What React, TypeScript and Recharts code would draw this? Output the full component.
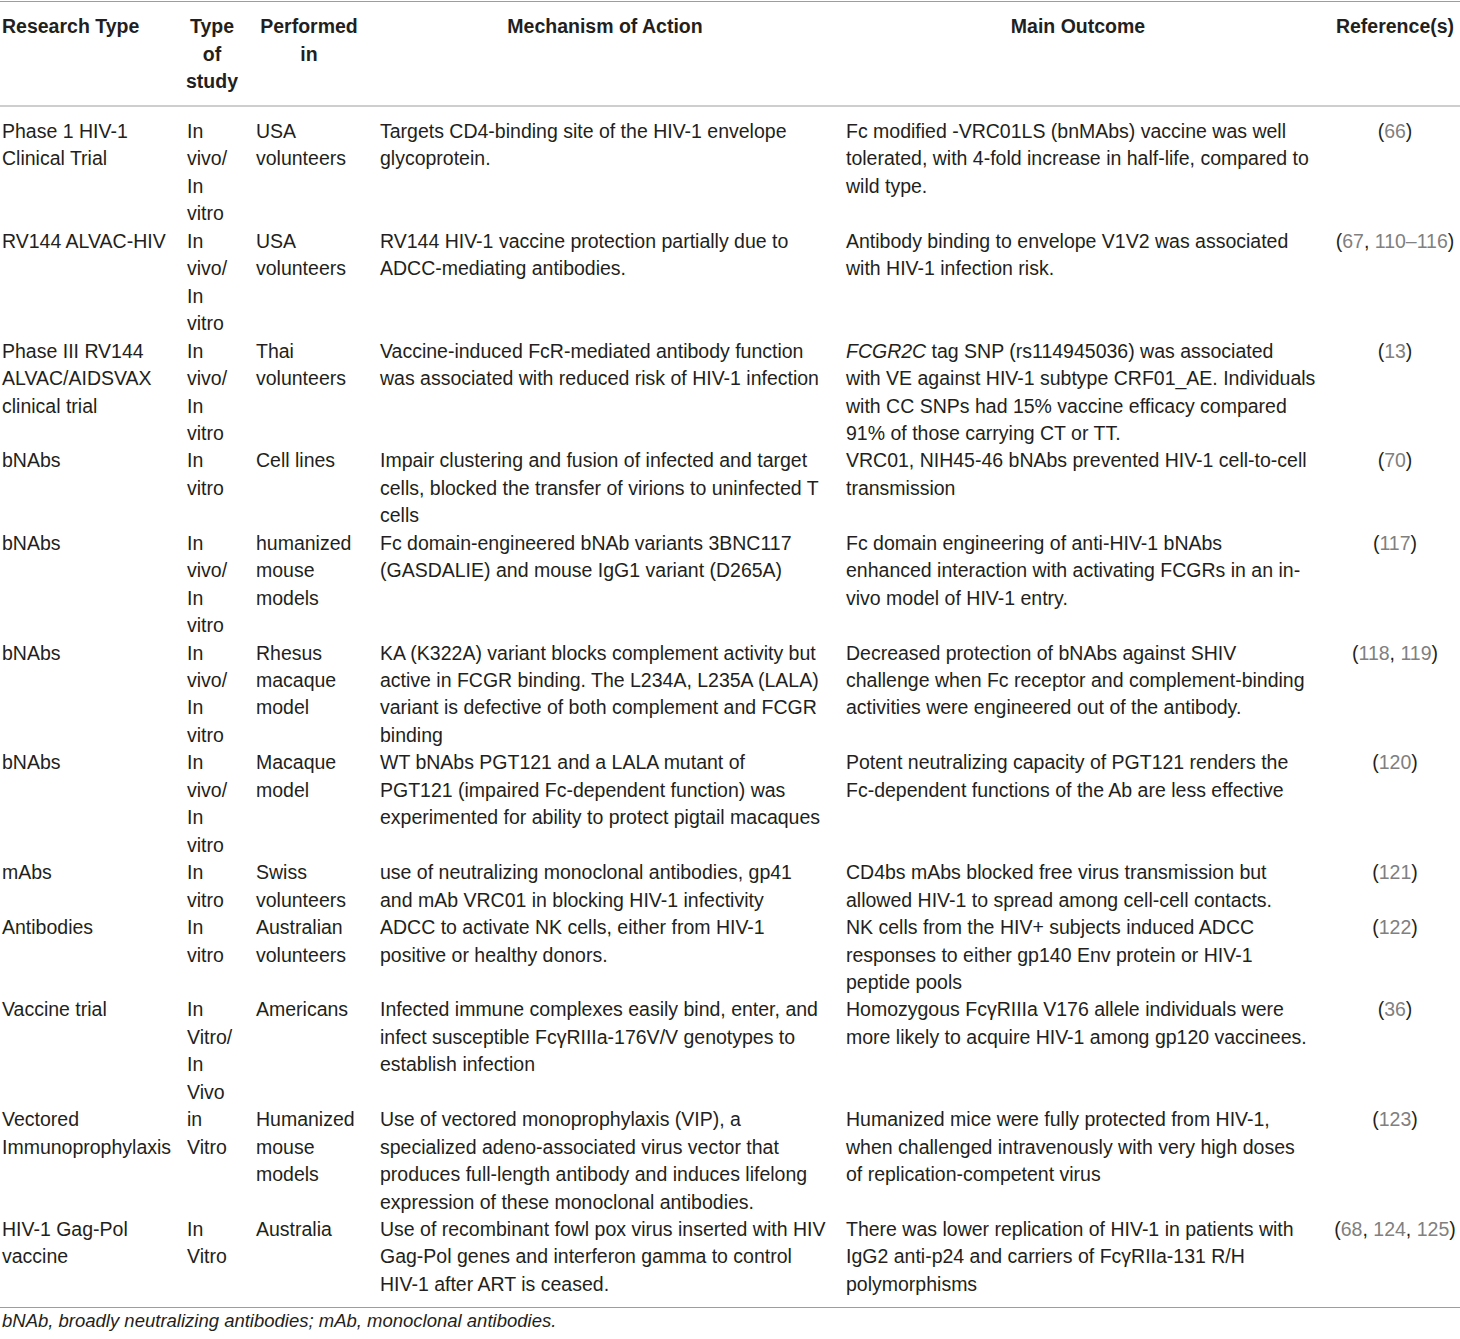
import React from "react";
import { Surface, Layer } from "recharts";

// column headers (one entry per header line)
const headers: { lines: string[]; x: number; anchor: "start" | "middle" }[] = [
  { lines: ["Research Type"], x: 2, anchor: "start" },
  { lines: ["Type", "of", "study"], x: 212, anchor: "middle" },
  { lines: ["Performed", "in"], x: 309, anchor: "middle" },
  { lines: ["Mechanism of Action"], x: 605, anchor: "middle" },
  { lines: ["Main Outcome"], x: 1078, anchor: "middle" },
  { lines: ["Reference(s)"], x: 1395, anchor: "middle" },
];

const vivoVitro = ["In", "vivo/", "In", "vitro"];
const inVitro = ["In", "vitro"];

const researchTypes = [
  ["Phase 1 HIV-1", "Clinical Trial"],
  ["RV144 ALVAC-HIV"],
  ["Phase III RV144", "ALVAC/AIDSVAX", "clinical trial"],
  ["bNAbs"],
  ["bNAbs"],
  ["bNAbs"],
  ["bNAbs"],
  ["mAbs"],
  ["Antibodies"],
  ["Vaccine trial"],
  ["Vectored", "Immunoprophylaxis"],
  ["HIV-1 Gag-Pol", "vaccine"],
];

const studyTypes = [
  vivoVitro,
  vivoVitro,
  vivoVitro,
  inVitro,
  vivoVitro,
  vivoVitro,
  vivoVitro,
  inVitro,
  inVitro,
  ["In", "Vitro/", "In", "Vivo"],
  ["in", "Vitro"],
  ["In", "Vitro"],
];

const performedIn = [
  ["USA", "volunteers"],
  ["USA", "volunteers"],
  ["Thai", "volunteers"],
  ["Cell lines"],
  ["humanized", "mouse", "models"],
  ["Rhesus", "macaque", "model"],
  ["Macaque", "model"],
  ["Swiss", "volunteers"],
  ["Australian", "volunteers"],
  ["Americans"],
  ["Humanized", "mouse", "models"],
  ["Australia"],
];

const mechanisms = [
  ["Targets CD4-binding site of the HIV-1 envelope", "glycoprotein."],
  ["RV144 HIV-1 vaccine protection partially due to", "ADCC-mediating antibodies."],
  ["Vaccine-induced FcR-mediated antibody function", "was associated with reduced risk of HIV-1 infection"],
  ["Impair clustering and fusion of infected and target", "cells, blocked the transfer of virions to uninfected T", "cells"],
  ["Fc domain-engineered bNAb variants 3BNC117", "(GASDALIE) and mouse IgG1 variant (D265A)"],
  [
    "KA (K322A) variant blocks complement activity but",
    "active in FCGR binding. The L234A, L235A (LALA)",
    "variant is defective of both complement and FCGR",
    "binding",
  ],
  [
    "WT bNAbs PGT121 and a LALA mutant of",
    "PGT121 (impaired Fc-dependent function) was",
    "experimented for ability to protect pigtail macaques",
  ],
  ["use of neutralizing monoclonal antibodies, gp41", "and mAb VRC01 in blocking HIV-1 infectivity"],
  ["ADCC to activate NK cells, either from HIV-1", "positive or healthy donors."],
  ["Infected immune complexes easily bind, enter, and", "infect susceptible FcγRIIIa-176V/V genotypes to", "establish infection"],
  [
    "Use of vectored monoprophylaxis (VIP), a",
    "specialized adeno-associated virus vector that",
    "produces full-length antibody and induces lifelong",
    "expression of these monoclonal antibodies.",
  ],
  ["Use of recombinant fowl pox virus inserted with HIV", "Gag-Pol genes and interferon gamma to control", "HIV-1 after ART is ceased."],
];

const outcomes = [
  ["Fc modified -VRC01LS (bnMAbs) vaccine was well", "tolerated, with 4-fold increase in half-life, compared to", "wild type."],
  ["Antibody binding to envelope V1V2 was associated", "with HIV-1 infection risk."],
  [
    "FCGR2C tag SNP (rs114945036) was associated",
    "with VE against HIV-1 subtype CRF01_AE. Individuals",
    "with CC SNPs had 15% vaccine efficacy compared",
    "91% of those carrying CT or TT.",
  ],
  ["VRC01, NIH45-46 bNAbs prevented HIV-1 cell-to-cell", "transmission"],
  ["Fc domain engineering of anti-HIV-1 bNAbs", "enhanced interaction with activating FCGRs in an in-", "vivo model of HIV-1 entry."],
  ["Decreased protection of bNAbs against SHIV", "challenge when Fc receptor and complement-binding", "activities were engineered out of the antibody."],
  ["Potent neutralizing capacity of PGT121 renders the", "Fc-dependent functions of the Ab are less effective"],
  ["CD4bs mAbs blocked free virus transmission but", "allowed HIV-1 to spread among cell-cell contacts."],
  ["NK cells from the HIV+ subjects induced ADCC", "responses to either gp140 Env protein or HIV-1", "peptide pools"],
  ["Homozygous FcγRIIIa V176 allele individuals were", "more likely to acquire HIV-1 among gp120 vaccinees."],
  ["Humanized mice were fully protected from HIV-1,", "when challenged intravenously with very high doses", "of replication-competent virus"],
  ["There was lower replication of HIV-1 in patients with", "IgG2 anti-p24 and carriers of FcγRIIa-131 R/H", "polymorphisms"],
];

const references = [
  "66",
  "67, 110–116",
  "13",
  "70",
  "117",
  "118, 119",
  "120",
  "121",
  "122",
  "36",
  "123",
  "68, 124, 125",
];

const italicTerms = ["FCGR2C"];
const footnote = "bNAb, broadly neutralizing antibodies; mAb, monoclonal antibodies.";

const W = 1460;
const H = 1339;
const FONT = "'Liberation Sans', Arial, sans-serif";
const SIZE = 19.5;
const INK = "#231f20";
const REF_GRAY = "#808080";
const RULE = "#9d9d9d";

const HEAD_Y = 33;
const HEAD_STEP = 27.5;
const BODY_Y = 138;
const STEP = 27.45;

const colX = [2, 187, 256, 380, 846];
const REF_X = 1395;

const renderLine = (line: string) => {
  const term = italicTerms.find((t) => line.startsWith(t));
  if (!term) return line;
  return (
    <>
      <tspan fontStyle="italic">{term}</tspan>
      {line.slice(term.length)}
    </>
  );
};

const renderRef = (ref: string) =>
  ref.split(/(, )/).map((part, i) => (
    <tspan key={i} fill={part === ", " ? INK : REF_GRAY}>
      {part}
    </tspan>
  ));

const TableChart = () => {
  const rows = researchTypes.map((_, i) => [
    researchTypes[i],
    studyTypes[i],
    performedIn[i],
    mechanisms[i],
    outcomes[i],
  ]);

  let lineIdx = 0;
  const rowStarts = rows.map((cells) => {
    const start = lineIdx;
    lineIdx += Math.max(...cells.map((c) => c.length));
    return start;
  });

  return (
    <Surface width={W} height={H}>
      <Layer>
        <line x1={0} x2={W} y1={1.5} y2={1.5} stroke={RULE} strokeWidth={1.2} />
        <line x1={0} x2={W} y1={106} y2={106} stroke={RULE} strokeWidth={1.2} />
        <line x1={0} x2={W} y1={1307.5} y2={1307.5} stroke={RULE} strokeWidth={1.2} />
      </Layer>
      <Layer>
        {headers.map((h, i) =>
          h.lines.map((l, j) => (
            <text
              key={`h${i}-${j}`}
              x={h.x}
              y={HEAD_Y + j * HEAD_STEP}
              textAnchor={h.anchor}
              fontFamily={FONT}
              fontSize={SIZE}
              fontWeight="bold"
              fill={INK}
            >
              {l}
            </text>
          ))
        )}
      </Layer>
      <Layer>
        {rows.map((cells, r) =>
          cells.map((cell, c) =>
            cell.map((l, j) => (
              <text
                key={`c${r}-${c}-${j}`}
                x={colX[c]}
                y={BODY_Y + (rowStarts[r] + j) * STEP}
                fontFamily={FONT}
                fontSize={SIZE}
                fill={INK}
              >
                {renderLine(l)}
              </text>
            ))
          )
        )}
        {references.map((ref, r) => (
          <text
            key={`r${r}`}
            x={REF_X}
            y={BODY_Y + rowStarts[r] * STEP}
            textAnchor="middle"
            fontFamily={FONT}
            fontSize={SIZE}
            fill={INK}
          >
            ({renderRef(ref)})
          </text>
        ))}
      </Layer>
      <text x={2} y={1327} fontFamily={FONT} fontSize={18.5} fontStyle="italic" fill={INK}>
        {footnote}
      </text>
    </Surface>
  );
};

export default function App() {
  return (
    <div style={{ position: "absolute", left: 0, top: 0, width: W, height: H, background: "#fff" }}>
      <TableChart />
    </div>
  );
}
